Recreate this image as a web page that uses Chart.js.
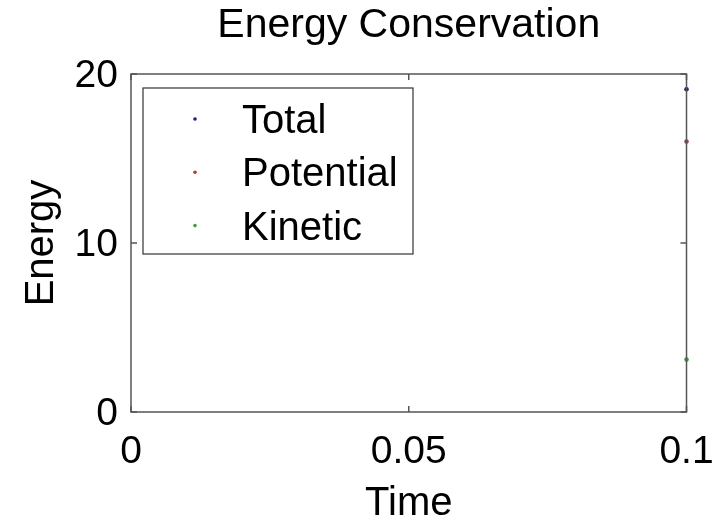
<!DOCTYPE html>
<html>
<head>
<meta charset="utf-8">
<script src="https://cdn.jsdelivr.net/npm/chart.js@4/dist/chart.umd.min.js"></script>
<style>
  html, body { margin: 0; padding: 0; background: #ffffff; }
  #wrap { width: 715px; height: 517px; }
</style>
</head>
<body>
<div id="wrap"><canvas id="energy" width="715" height="517"></canvas></div>
<script>
// Energy samples at the recorded time step
const timeValues = [0.1];
const totalEnergy = [19.1];
const potentialEnergy = [16.0];
const kineticEnergy = [3.1];

const seriesNames = ['Total', 'Potential', 'Kinetic'];
const seriesColors = ['#1c1c8a', '#b23a3a', '#3aa23a'];

const xTickValues = [0, 0.05, 0.1];
const xTickLabels = ['0', '0.05', '0.1'];
const yTickValues = [0, 10, 20];
const yTickLabels = ['0', '10', '20'];

const FONT = 'Liberation Sans, Arial, Helvetica, sans-serif';

function toPoints(xs, ys) {
  return xs.map((x, i) => ({ x: x, y: ys[i] }));
}

const seriesValues = [totalEnergy, potentialEnergy, kineticEnergy];
const datasets = seriesNames.map((name, i) => ({
  label: name,
  data: toPoints(timeValues, seriesValues[i]),
  backgroundColor: seriesColors[i],
  borderColor: seriesColors[i],
  pointRadius: 2.3,
  pointHoverRadius: 2.3,
  borderWidth: 0,
  showLine: false,
  clip: false
}));

// Axes box with inward tick marks on all four sides
const axesBox = {
  id: 'axesBox',
  afterDatasetsDraw(chart) {
    const { ctx, chartArea: a, scales } = chart;
    const len = 6;
    ctx.save();
    ctx.strokeStyle = '#555555';
    ctx.lineWidth = 1.5;
    ctx.strokeRect(a.left, a.top, a.right - a.left, a.bottom - a.top);
    ctx.beginPath();
    xTickValues.forEach(v => {
      const px = scales.x.getPixelForValue(v);
      ctx.moveTo(px, a.bottom); ctx.lineTo(px, a.bottom - len);
      ctx.moveTo(px, a.top); ctx.lineTo(px, a.top + len);
    });
    yTickValues.forEach(v => {
      const py = scales.y.getPixelForValue(v);
      ctx.moveTo(a.left, py); ctx.lineTo(a.left + len, py);
      ctx.moveTo(a.right, py); ctx.lineTo(a.right - len, py);
    });
    ctx.stroke();
    ctx.restore();
  }
};

// Boxed legend in the upper-left corner of the plot
const boxedLegend = {
  id: 'boxedLegend',
  afterDraw(chart) {
    const { ctx, chartArea: a } = chart;
    const left = a.left + 12, top = a.top + 14;
    const w = 270, h = 166;
    ctx.save();
    ctx.fillStyle = '#ffffff';
    ctx.fillRect(left, top, w, h);
    ctx.strokeStyle = '#333333';
    ctx.lineWidth = 1.2;
    ctx.strokeRect(left, top, w, h);
    ctx.font = '40px ' + FONT;
    ctx.textAlign = 'left';
    ctx.textBaseline = 'alphabetic';
    chart.data.datasets.forEach((ds, i) => {
      const base = top + 45 + i * 53.3;
      ctx.fillStyle = ds.backgroundColor;
      ctx.beginPath();
      ctx.arc(left + 52, base - 14, 1.8, 0, Math.PI * 2);
      ctx.fill();
      ctx.fillStyle = '#000000';
      ctx.fillText(ds.label, left + 99, base);
    });
    ctx.restore();
  }
};

new Chart(document.getElementById('energy'), {
  type: 'scatter',
  data: { datasets: datasets },
  options: {
    responsive: false,
    devicePixelRatio: 1,
    animation: false,
    events: [],
    layout: { padding: { left: 0, right: 28.5, top: 0, bottom: 0 } },
    plugins: {
      legend: { display: false },
      tooltip: { enabled: false },
      title: {
        display: true,
        text: 'Energy Conservation',
        fullSize: false,
        color: '#000000',
        font: { family: FONT, size: 41, weight: 'normal', lineHeight: 1.2 },
        padding: { top: 1, bottom: 23.8 }
      }
    },
    scales: {
      x: {
        type: 'linear',
        min: 0,
        max: 0.1,
        afterBuildTicks(scale) { scale.ticks = xTickValues.map(v => ({ value: v })); },
        afterFit(scale) {
          scale.height = 105;
          scale.paddingLeft = 0;
          scale.paddingRight = 0;
        },
        grid: { display: false, drawTicks: false },
        border: { display: false },
        ticks: {
          color: '#000000',
          font: { family: FONT, size: 39 },
          padding: 17,
          maxRotation: 0,
          callback(value) {
            const i = xTickValues.indexOf(value);
            return i >= 0 ? xTickLabels[i] : '';
          }
        },
        title: {
          display: true,
          text: 'Time',
          color: '#000000',
          font: { family: FONT, size: 40, lineHeight: 0.65 },
          padding: { top: 0, bottom: 0 }
        }
      },
      y: {
        type: 'linear',
        min: 0,
        max: 20,
        afterBuildTicks(scale) { scale.ticks = yTickValues.map(v => ({ value: v })); },
        afterFit(scale) {
          scale.width = 131;
          scale.paddingTop = 0;
          scale.paddingBottom = 0;
        },
        grid: { display: false, drawTicks: false },
        border: { display: false },
        ticks: {
          color: '#000000',
          font: { family: FONT, size: 39 },
          padding: 13,
          labelOffset: 2,
          callback(value) {
            const i = yTickValues.indexOf(value);
            return i >= 0 ? yTickLabels[i] : '';
          }
        },
        title: {
          display: true,
          text: 'Energy',
          color: '#000000',
          font: { family: FONT, size: 40, lineHeight: 1.2 },
          padding: { top: 18, bottom: 0 }
        }
      }
    }
  },
  plugins: [axesBox, boxedLegend]
});
</script>
</body>
</html>
